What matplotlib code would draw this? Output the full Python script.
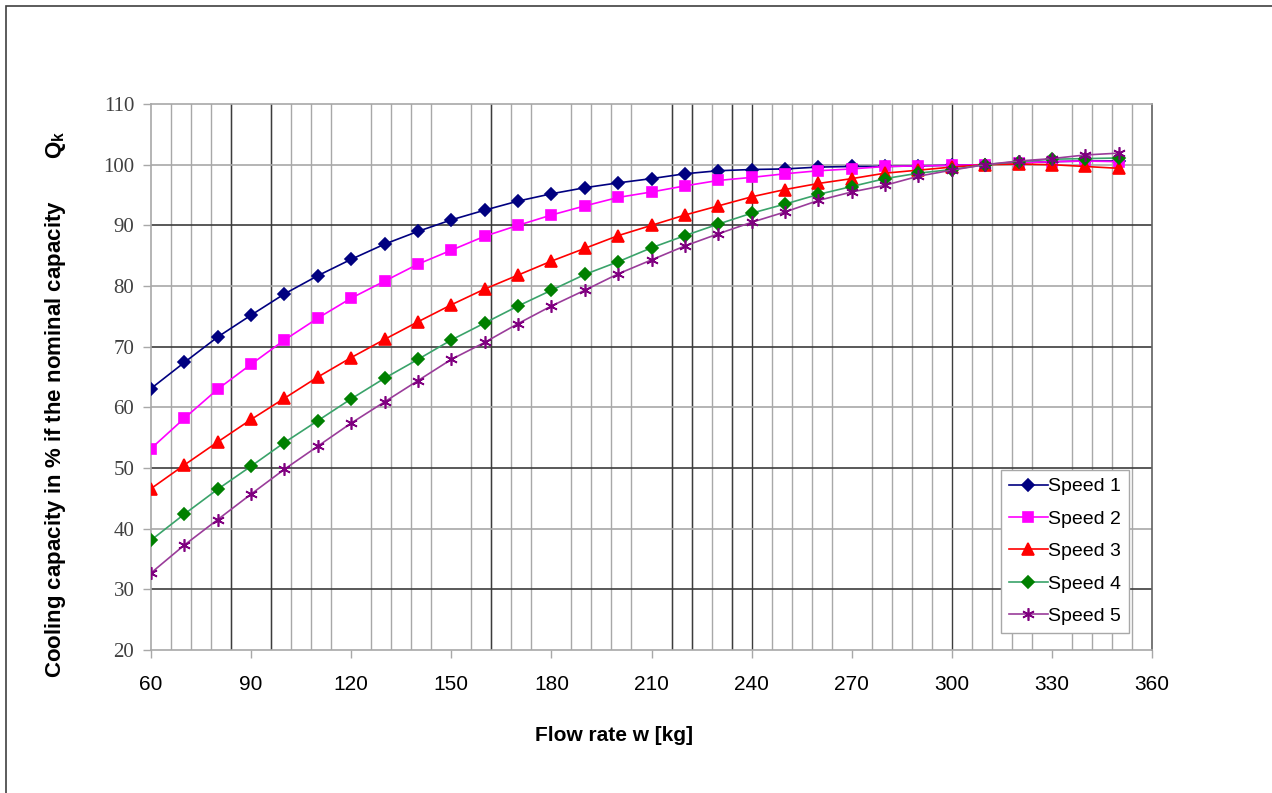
import numpy as np
import matplotlib
matplotlib.use("Agg")
import matplotlib.pyplot as plt
from matplotlib.patches import Rectangle

# === Datos ===
flow = [60, 70, 80, 90, 100, 110, 120, 130, 140, 150,
        160, 170, 180, 190, 200, 210, 220, 230, 240, 250,
        260, 270, 280, 290, 300, 310, 320, 330, 340, 350]

speed1 = [63.1, 67.4, 71.6, 75.2, 78.7, 81.7, 84.4, 86.9, 89.0, 90.9,
          92.5, 94.0, 95.2, 96.2, 97.0, 97.7, 98.5, 99.0, 99.2, 99.3,
          99.6, 99.7, 99.7, 99.8, 99.9, 100.0, 100.3, 100.5, 100.6, 100.6]
speed2 = [53.2, 58.2, 63.0, 67.1, 71.1, 74.7, 78.0, 80.8, 83.6, 85.9,
          88.2, 90.0, 91.7, 93.2, 94.6, 95.5, 96.5, 97.4, 97.9, 98.5,
          99.0, 99.3, 99.7, 99.8, 99.9, 100.0, 100.3, 100.5, 100.6, 100.5]
speed3 = [46.6, 50.5, 54.3, 58.0, 61.5, 65.0, 68.2, 71.2, 74.1, 76.9,
          79.5, 81.8, 84.1, 86.2, 88.3, 90.0, 91.7, 93.2, 94.7, 95.9,
          96.9, 97.7, 98.6, 99.1, 99.6, 100.0, 100.1, 100.0, 99.7, 99.4]
speed4 = [38.1, 42.4, 46.5, 50.3, 54.2, 57.8, 61.4, 64.8, 67.9, 71.1,
          73.9, 76.7, 79.3, 81.9, 84.0, 86.3, 88.3, 90.2, 92.0, 93.5,
          95.1, 96.4, 97.7, 98.6, 99.2, 100.0, 100.5, 100.9, 101.0, 101.1]
speed5 = [32.7, 37.3, 41.5, 45.7, 49.8, 53.6, 57.4, 60.9, 64.4, 67.9,
          70.7, 73.8, 76.7, 79.3, 82.0, 84.3, 86.6, 88.6, 90.5, 92.2,
          94.1, 95.5, 96.6, 98.1, 99.1, 100.0, 100.6, 101.0, 101.6, 101.9]

labels = ["Speed 1", "Speed 2", "Speed 3", "Speed 4", "Speed 5"]
series = [speed1, speed2, speed3, speed4, speed5]

x_ticks = [60, 90, 120, 150, 180, 210, 240, 270, 300, 330, 360]
y_ticks = [20, 30, 40, 50, 60, 70, 80, 90, 100, 110]

# === Estilo de cada serie ===
line_colors = ["#000080", "#ff00ff", "#ff0000", "#3aa36a", "#9a3c9a"]
marker_colors = ["#000080", "#ff00ff", "#ff0000", "#008000", "#800080"]
markers = ["D", "s", "^", "D", (6, 2, 0)]
marker_sizes = [6, 7, 8, 6, 9]

plt.rcParams['font.family'] = ['Liberation Sans', 'DejaVu Sans']
plt.rcParams['mathtext.fontset'] = 'custom'
plt.rcParams['mathtext.rm'] = 'Liberation Sans'
plt.rcParams['mathtext.bf'] = 'Liberation Sans:bold'

fig = plt.figure(figsize=(12.72, 7.93), dpi=100)
ax = fig.add_axes([151 / 1272, 1 - 650 / 793, 1001 / 1272, 546 / 793])

# Marco exterior de la figura (solo se ven arriba e izquierda)
fig.patches.append(Rectangle((6 / 1272, -0.05), 1.1, 1.05 - 6 / 793,
                             transform=fig.transFigure, fill=False,
                             edgecolor="#404040", linewidth=1.2))

# Rejilla vertical fina cada 6 unidades
ax.set_xlim(60, 360)
ax.set_ylim(20, 110)
ax.set_xticks(np.arange(60, 361, 6), minor=True)
ax.grid(True, which="minor", axis="x", color="#a8a8a8", linewidth=1.0)
# Algunas lineas verticales se ven mas oscuras en la imagen
for xv in [84, 96, 162, 216, 222, 234, 240, 300]:
    ax.axvline(xv, color="#3c3c3c", linewidth=1.0, zorder=0.6)

# Rejilla horizontal alternando oscura / clara
for i, yv in enumerate(y_ticks[1:-1]):
    c = "#3c3c3c" if i % 2 == 0 else "#a8a8a8"
    ax.axhline(yv, color=c, linewidth=1.2, zorder=0.6)
ax.set_axisbelow(True)

# Curvas
for ys, lab, lc, mc, mk, ms in zip(series, labels, line_colors,
                                   marker_colors, markers, marker_sizes):
    ax.plot(flow, ys, color=lc, linewidth=1.2, marker=mk, markersize=ms,
            markerfacecolor=mc, markeredgecolor=mc, markeredgewidth=1.2,
            label=lab, zorder=3)

# Ejes y marcas
ax.set_xticks(x_ticks)
ax.set_xticklabels([str(v) for v in x_ticks], fontsize=15)
ax.set_yticks(y_ticks)
ax.set_yticklabels([str(v) for v in y_ticks], fontsize=15,
                   family=['Liberation Serif'], color="#404040")
ax.tick_params(axis="x", which="major", direction="out", length=6, width=1,
               color="#a8a8a8", pad=12)
ax.tick_params(axis="x", which="minor", length=0)
ax.tick_params(axis="y", direction="out", length=6, width=1,
               color="#a8a8a8", pad=6)
for s in ax.spines.values():
    s.set_color("#a8a8a8")
    s.set_linewidth(1.2)
ax.spines["right"].set_color("#606060")

ax.set_xlabel("Flow rate w [kg]", fontsize=15, fontweight="bold")
ax.xaxis.set_label_coords(0.4626, -0.139)
ax.set_ylabel("Cooling capacity in % if the nominal capacity       $\\mathbf{Q_k}$",
              fontsize=16, fontweight="bold")
ax.yaxis.set_label_coords(-0.083, 0.45)

# Leyenda
leg = ax.legend(loc="lower right", bbox_to_anchor=(0.977, 0.031), fontsize=14,
                frameon=True, fancybox=False, edgecolor="#a8a8a8",
                framealpha=1, handlelength=2.0, handletextpad=0.0,
                labelspacing=0.76, borderpad=0.42, borderaxespad=0)
leg.get_frame().set_linewidth(1.0)

plt.savefig("out.png", dpi=100)
